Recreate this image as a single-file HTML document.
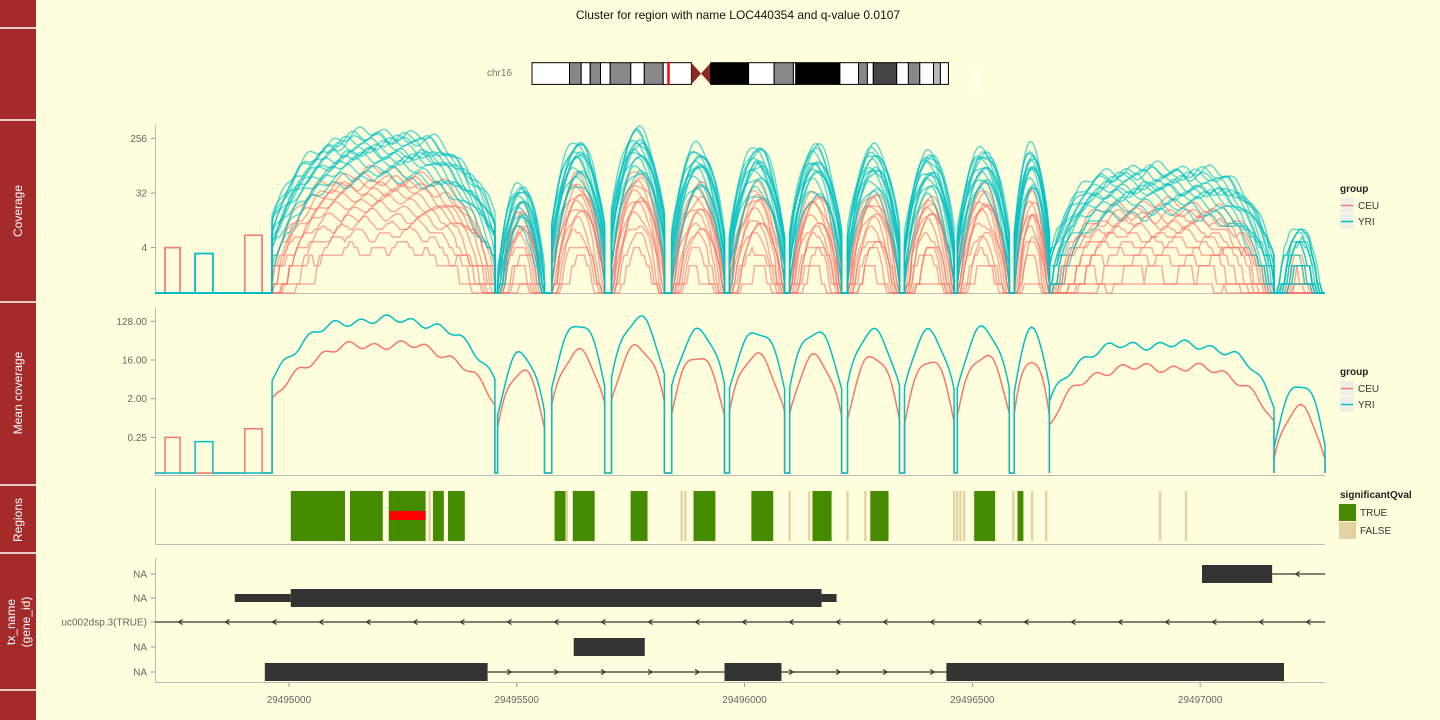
<!DOCTYPE html>
<html><head><meta charset="utf-8">
<style>
body{margin:0;background:#FFFFDD;}
svg{display:block;font-family:"Liberation Sans",sans-serif;}
.tk{font-size:10px;fill:#666;}
</style></head>
<body>
<svg id="chart" width="1440" height="720" viewBox="0 0 1440 720">
<rect width="1440" height="720" fill="#FFFFDD"/>
<g>
<rect x="0" y="0" width="36" height="720" fill="#A52A2A"/>
<g stroke="#fff" stroke-width="1.5">
<line x1="0" x2="36" y1="28" y2="28"/><line x1="0" x2="36" y1="120" y2="120"/>
<line x1="0" x2="36" y1="302" y2="302"/><line x1="0" x2="36" y1="485" y2="485"/>
<line x1="0" x2="36" y1="553" y2="553"/><line x1="0" x2="36" y1="690" y2="690"/>
</g>
<g fill="#fff" font-size="12" text-anchor="middle">
<text transform="translate(22,211) rotate(-90)">Coverage</text>
<text transform="translate(22,393) rotate(-90)">Mean coverage</text>
<text transform="translate(22,520) rotate(-90)">Regions</text>
<text transform="translate(15,622) rotate(-90)">tx_name</text>
<text transform="translate(30,622) rotate(-90)">(gene_id)</text>
</g>
</g>
<text x="738" y="19" font-size="12" text-anchor="middle" fill="#111">Cluster for region with name LOC440354 and q-value 0.0107</text>
<g id="ideo">
<text x="487" y="76" font-size="10" fill="#777">chr16</text>
<text transform="translate(972,66) rotate(90)" font-size="10" fill="#fff">chr16</text>
</g>
<g id="cov"></g>
<g id="mean"></g>
<g id="reg"></g>
<g id="tx"></g>
<g id="xax"></g>
<g id="leg"></g>
</svg>
<script>
// ---- data ----
const humpStart=[29494963,29495458,29495577,29495708,29495840,29495967,29496099,29496226,29496351,29496467,29496592,29496669,29497162];
const humpEnd=[29495452,29495561,29495693,29495824,29495956,29496088,29496213,29496340,29496460,29496581,29496669,29497162,29497274];
const yriPeak=[137,21,105,152,80,80,80,80,70,80,80,36,4.2];
const ceuPeak=[36,9.5,28,36,21,21,18,18,15,21,18,10.6,1.4];
const humpFlat=[3,2,2,2,2,2,2,2,2,2,2,4,2];
const smallStart=[29494728,29494794,29494903];
const smallEnd=[29494761,29494833,29494941];
const smallVal=[0.25,0.2,0.4];
const smallGroup=['CEU','YRI','CEU'];
const yriOffsets=[1.0,0.8,0.6,0.4,0.2,0,-0.2,-0.4,-0.6,-0.9,-1.2,-1.5,0.7,-0.1];
const ceuOffsets=[1.0,0.6,0.3,0,-0.3,-0.6,-1,-1.4,-1.8,-2.3,-3,0.4];
const covTicks=[4,32,256];
const meanTicks=[0.25,2,16,128];
const meanTickLabels=['0.25','2.00','16.00','128.00'];
const xTicks=[29495000,29495500,29496000,29496500,29497000];
const sigStart=[29495004,29495134,29495219,29495316,29495349,29495583,29495623,29495750,29495888,29496015,29496149,29496276,29496504,29496599];
const sigEnd=[29495123,29495206,29495300,29495340,29495386,29495607,29495671,29495787,29495936,29496063,29496191,29496316,29496550,29496612];
const redStart=[29495221], redEnd=[29495300];
const nsPos=[29495309,29495610,29495862,29495870,29496099,29496142,29496226,29496265,29496460,29496467,29496474,29496482,29496590,29496607,29496631,29496662,29496912,29496969];
const txRows=['NA','NA','uc002dsp.3(TRUE)','NA','NA'];
const exonRow=[0,1,1,1,3,4,4,4];
const exonStart=[29497004,29494881,29495004,29496169,29495625,29494947,29495956,29496443];
const exonEnd=[29497158,29495004,29496169,29496202,29495781,29495436,29496081,29497184];
const exonThick=[1,0,1,0,1,1,1,1];

// ---- scales ----
const X0=155,X1=1325,G0=29494706,G1=29497274;
const xs=g=>X0+(g-G0)/(G1-G0)*(X1-X0);
const covY=v=>v<=0.5?293:Math.max(126,193-(Math.log2(v)-5)*18.2);
const meanY=v=>v<=0.05?473:Math.min(473,360-(Math.log2(v)-4)*12.9);
const NS='http://www.w3.org/2000/svg';
function el(tag,attrs,parent){const e=document.createElementNS(NS,tag);for(const k in attrs)e.setAttribute(k,attrs[k]);parent.appendChild(e);return e;}
const CEU='#F8766D',YRI='#00BFC4';

function profile(peaks,off,quant,seed){
  const pts=[[G0,0]];
  for(let i=0;i<smallStart.length;i++){
    const grp=smallGroup[i];
    if((peaks===ceuPeak)!==(grp==='CEU'))continue;
    let v=quant?smallVal[i]*16:smallVal[i];
    if(quant&&seed%3!==0)continue;
    pts.push([smallStart[i],0],[smallStart[i],v],[smallEnd[i],v],[smallEnd[i],0]);
  }
  for(let i=0;i<humpStart.length;i++){
    const a=humpStart[i],b=humpEnd[i],n=Math.max(8,Math.round((xs(b)-xs(a))/2.5));
    pts.push([a,0]);
    for(let k=0;k<=n;k++){
      const t=k/n;const d=Math.abs(2*t-1);
      const g=a+(b-a)*t;
      let lv=Math.log2(peaks[i])+off-4.5*Math.pow(d,humpFlat[i]);
      lv+=0.25*Math.sin(g/9+seed*1.7)+0.15*Math.sin(g/23+seed);
      let v=Math.pow(2,lv);
      if(quant&&v<12)v=Math.floor(v);
      pts.push([g,v]);
    }
    pts.push([b,0]);
  }
  pts.push([G1,0]);
  return pts;
}
function pathOf(pts,ys){return pts.map((p,i)=>(i?'L':'M')+xs(p[0]).toFixed(1)+' '+ys(p[1]).toFixed(1)).join('');}

// ideogram
const ideo=document.getElementById('ideo');
const bandX=[532,569.5,581.2,590.2,600.5,610.2,630.8,644.3,663.2,691.4,710.7,748.6,774.1,793.4,795.8,839.9,858.5,867.4,873.3,896.7,908.4,919.8,933.5,940.4,948.4];
const bandC=['#fff','#888','#fff','#888','#fff','#888','#fff','#888','#fff','cen','#000','#fff','#888','#fff','#000','#fff','#888','#fff','#444','#fff','#888','#fff','#bbb','#fff'];
for(let i=0;i<bandC.length;i++){
  if(bandC[i]==='cen'){el('path',{d:`M${bandX[i]} 62.7L${bandX[i+1]} 84.4L${bandX[i+1]} 62.7L${bandX[i]} 84.4Z`,fill:'#8B2A22'},ideo);continue;}
  el('rect',{x:bandX[i],y:62.7,width:bandX[i+1]-bandX[i],height:21.7,fill:bandC[i],stroke:'#000','stroke-width':1},ideo);
}
el('rect',{x:667.3,y:62,width:2.4,height:23,fill:'#f00'},ideo);

// coverage panel
const cov=document.getElementById('cov');
el('line',{x1:155.5,x2:155.5,y1:125,y2:293,stroke:'#bbb'},cov);
el('line',{x1:155,x2:1325,y1:293.5,y2:293.5,stroke:'#bbb'},cov);
covTicks.forEach(t=>{const y=covY(t);el('line',{x1:151,x2:155,y1:y,y2:y,stroke:'#999'},cov);const tx=el('text',{x:147,y:y+3.5,'text-anchor':'end',class:'tk'},cov);tx.textContent=t;});
ceuOffsets.forEach((o,i)=>{const p=el('path',{d:pathOf(profile(ceuPeak,o,true,i),covY),fill:'none',stroke:CEU,'stroke-opacity':0.6,'stroke-width':1.5},cov);

});
yriOffsets.forEach((o,i)=>{const p=el('path',{d:pathOf(profile(yriPeak,o+0.2,true,i+20),covY),fill:'none',stroke:YRI,'stroke-opacity':0.6,'stroke-width':1.5},cov);

});

// mean panel
const mean=document.getElementById('mean');
el('line',{x1:155.5,x2:155.5,y1:307,y2:475,stroke:'#bbb'},mean);
el('line',{x1:155,x2:1325,y1:475.5,y2:475.5,stroke:'#bbb'},mean);
meanTicks.forEach((t,i)=>{const y=meanY(t);el('line',{x1:151,x2:155,y1:y,y2:y,stroke:'#999'},mean);const tx=el('text',{x:147,y:y+3.5,'text-anchor':'end',class:'tk'},mean);tx.textContent=meanTickLabels[i];});
let mp=el('path',{d:pathOf(profile(ceuPeak,0,false,3),meanY),fill:'none',stroke:CEU,'stroke-width':1.5},mean);


mp=el('path',{d:pathOf(profile(yriPeak,0,false,5),meanY),fill:'none',stroke:YRI,'stroke-width':1.5},mean);



// regions
const reg=document.getElementById('reg');
el('line',{x1:155.5,x2:155.5,y1:488,y2:544,stroke:'#bbb'},reg);
el('line',{x1:155,x2:1325,y1:544.5,y2:544.5,stroke:'#bbb'},reg);
nsPos.forEach(g=>{const r=el('rect',{x:xs(g)-1.2,y:491,width:2.4,height:50,fill:'#E3D3A3'},reg);

});
sigStart.forEach((s,i)=>{const r=el('rect',{x:xs(s),y:491,width:xs(sigEnd[i])-xs(s),height:50,fill:'#458B00'},reg);

});
redStart.forEach((s,i)=>{const r=el('rect',{x:xs(s),y:511,width:xs(redEnd[i])-xs(s),height:9,fill:'#f00'},reg);

});

// transcripts
const tx=document.getElementById('tx');
const rowY=[574,598,622,647,672];
el('line',{x1:155.5,x2:155.5,y1:558,y2:682,stroke:'#bbb'},tx);
el('line',{x1:155,x2:1325,y1:682.5,y2:682.5,stroke:'#bbb'},tx);
txRows.forEach((n,i)=>{el('line',{x1:151,x2:155,y1:rowY[i],y2:rowY[i],stroke:'#999'},tx);const t=el('text',{x:147,y:rowY[i]+3.5,'text-anchor':'end',class:'tk'},tx);t.textContent=n;});
function arrowLine(x1,x2,y,dir,step){
  el('line',{x1,x2,y1:y,y2:y,stroke:'#333','stroke-width':1.2},tx);
  for(let x=x1+step/2;x<x2;x+=step){el('path',{d:dir<0?`M${x+4} ${y-2.5}L${x} ${y}L${x+4} ${y+2.5}`:`M${x-4} ${y-2.5}L${x} ${y}L${x-4} ${y+2.5}`,fill:'none',stroke:'#333','stroke-width':1.2},tx);}
}
arrowLine(155,1325,622,-1,47);
arrowLine(xs(29497158),1325,574,-1,47);
arrowLine(xs(29495436),xs(29496443),672,1,47);
exonStart.forEach((s,i)=>{const h=exonThick[i]?18:8;const r=el('rect',{x:xs(s),y:rowY[exonRow[i]]-h/2,width:xs(exonEnd[i])-xs(s),height:h,fill:'#333'},tx);

});

// x axis
const xax=document.getElementById('xax');
xTicks.forEach(g=>{const x=xs(g);el('line',{x1:x,x2:x,y1:683,y2:687,stroke:'#999'},xax);const t=el('text',{x,y:703,'text-anchor':'middle',class:'tk'},xax);t.textContent=g;});

// legends
const leg=document.getElementById('leg');
function lineLegend(y0){
  const t=el('text',{x:1340,y:y0,'font-size':10,'font-weight':'bold',fill:'#222'},leg);t.textContent='group';
  [['CEU',CEU],['YRI',YRI]].forEach((d,i)=>{const y=y0+6+i*16;el('rect',{x:1340,y,width:14,height:15,fill:'#eef0e8'},leg);el('line',{x1:1341,x2:1353,y1:y+7.5,y2:y+7.5,stroke:d[1],'stroke-width':1.5},leg);const tt=el('text',{x:1358,y:y+11,'font-size':10,fill:'#333'},leg);tt.textContent=d[0];});
}
lineLegend(192);lineLegend(375);
const st=el('text',{x:1340,y:498,'font-size':10,'font-weight':'bold',fill:'#222'},leg);st.textContent='significantQval';
[['TRUE','#458B00'],['FALSE','#E3D3A3']].forEach((d,i)=>{const y=504+i*18;el('rect',{x:1339,y,width:17,height:17,fill:d[1]},leg);const tt=el('text',{x:1360,y:y+12,'font-size':10,fill:'#333'},leg);tt.textContent=d[0];});
</script>
</body></html>
